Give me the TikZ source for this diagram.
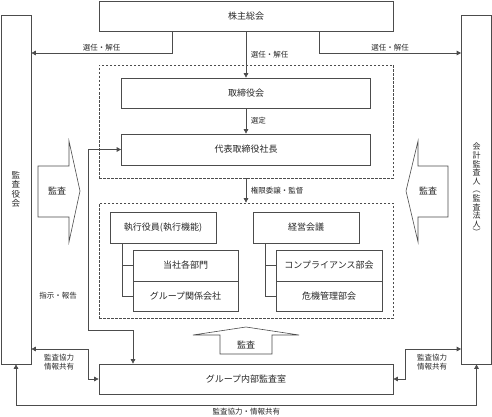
\documentclass[tikz,border=0pt]{standalone}
\usepackage{fontspec}
\setmainfont{Noto Sans CJK JP}
\usetikzlibrary{arrows.meta}
\tikzset{
  box/.style={draw=black!70, line width=0.7pt, text=black!85, font=\fontsize{9}{10}\selectfont, inner sep=0pt, minimum height=30pt},
  dashbox/.style={draw=black!70, line width=0.7pt, dash pattern=on 2.5pt off 1.5pt, inner sep=0pt},
  lbl/.style={text=black!85, font=\fontsize{7.5}{9}\selectfont, inner sep=1.5pt, align=center},
  bigtxt/.style={text=black!85, font=\fontsize{9}{10}\selectfont, inner sep=0pt},
  tip/.style={-{Triangle[length=4.5pt,width=4.5pt]}},
  tips/.style={{Triangle[length=4.5pt,width=4.5pt]}-{Triangle[length=4.5pt,width=4.5pt]}},
  conn/.style={draw=black!70, line width=0.7pt},
  bigarrow/.style={draw=black!70, line width=0.6pt, fill=white},
}
\begin{document}
\begin{tikzpicture}[x=1pt,y=-1pt]
  \useasboundingbox (0,0) rectangle (492,417);
  \node[box, minimum width=294pt] (kabu) at (246,16) {株主総会};
  \node[box, minimum width=30pt, minimum height=349pt, align=center, font=\fontsize{8.5}{9.5}\selectfont] (kansayaku) at (16,189.5) {監\\査\\役\\会};
  \node[box, minimum width=30pt, minimum height=349pt, align=center, font=\fontsize{8}{8.6}\selectfont] (kaikei) at (476.5,189.5) {会\\計\\監\\査\\人\\︵\\監\\査\\法\\人\\︶};
  \node[dashbox, minimum width=294pt, minimum height=113pt] (upper) at (246,121.5) {};
  \node[dashbox, minimum width=294pt, minimum height=115pt] (lower) at (246,260.5) {};
  \node[box, minimum width=249pt] (torishimari) at (246,93) {取締役会};
  \node[box, minimum width=249pt, minimum height=31pt] (shacho) at (246,149.5) {代表取締役社長};
  \node[box, minimum width=106pt, minimum height=31pt] (shikko) at (163,227.5) {執行役員(執行機能)};
  \node[box, minimum width=105pt, minimum height=31pt] (bumon) at (185.5,265.5) {当社各部門};
  \node[box, minimum width=105pt] (kankei) at (185.5,296) {グループ関係会社};
  \node[box, minimum width=106pt, minimum height=31pt] (keiei) at (306,227.5) {経営会議};
  \node[box, minimum width=106pt, minimum height=31pt] (compliance) at (329,265.5) {コンプライアンス部会};
  \node[box, minimum width=106pt] (kiki) at (329,296) {危機管理部会};
  \node[box, minimum width=294pt] (naibu) at (246,379) {グループ内部監査室};

  \draw[bigarrow] (38,166) -- (69,166) -- (69,141) -- (80,191) -- (69,242) -- (69,217) -- (38,217) -- cycle;
  \node[bigtxt] (kansaL) at (57,191) {監査};
  \draw[bigarrow] (448,166) -- (418,166) -- (418,141) -- (406,191) -- (418,242) -- (418,217) -- (448,217) -- cycle;
  \node[bigtxt] (kansaR) at (428,191) {監査};
  \draw[bigarrow] (220,354) -- (220,335) -- (193,335) -- (246,327) -- (299,335) -- (272,335) -- (272,354) -- cycle;
  \node[bigtxt] (kansaB) at (246,345) {監査};

  \draw[conn,tip] ([xshift=-74pt]kabu.south) |- (kansayaku.east |- 0,53) node[lbl,pos=0.75,above] {選任・解任};
  \draw[conn,tip] (kabu.south) -- (torishimari.north) node[lbl,midway,right=3pt] {選任・解任};
  \draw[conn,tip] ([xshift=73pt]kabu.south) |- (kaikei.west |- 0,53) node[lbl,pos=0.75,above] {選任・解任};
  \draw[conn,tip] (torishimari.south) -- (shacho.north) node[lbl,midway,right=3pt] {選定};
  \draw[conn,tip] (upper.south) -- (lower.north) node[lbl,midway,right=3pt] {権限委譲・監督};

  \draw[conn] (shikko.south -| 122,0) |- (bumon.west);
  \draw[conn] (shikko.south -| 122,0) |- (kankei.west);
  \draw[conn] (keiei.south -| 265,0) |- (compliance.west);
  \draw[conn] (keiei.south -| 265,0) |- (kiki.west);

  \draw[conn,tips] (shacho.west) -| (88,330) -| (naibu.north -| 133,0);
  \node[lbl] (shiji) at (58,296) {指示・報告};
  \draw[conn,tips] (kansayaku.east |- 0,349) -| (88,379) -- (naibu.west);
  \node[lbl] (kyoryokuL) at (59,362) {監査協力\\情報共有};
  \draw[conn,tips] (naibu.east) -| (405,349) -- (kaikei.west |- 0,349);
  \node[lbl] (kyoryokuR) at (432,362) {監査協力\\情報共有};
  \draw[conn,tips] (kansayaku.south) |- (kaikei.south |- 0,405) node[lbl,pos=0.75,below=1pt] {監査協力・情報共有} -- (kaikei.south);
\end{tikzpicture}
\end{document}
